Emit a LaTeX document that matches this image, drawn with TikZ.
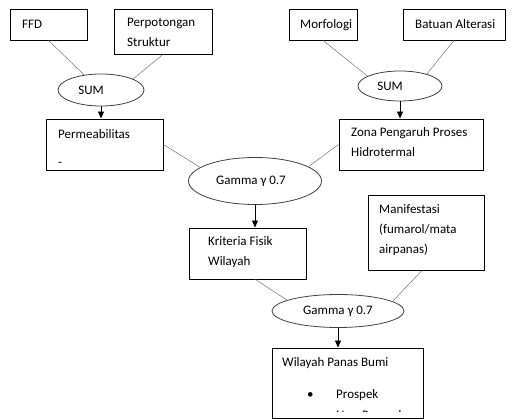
\documentclass[tikz,border=0pt]{standalone}
\usepackage{fontspec}
\setmainfont{Carlito}
\usetikzlibrary{arrows.meta,shapes.geometric}
\begin{document}
\begin{tikzpicture}[x=1pt,y=-1pt,
  box/.style={draw=black, line width=0.9pt, inner sep=0pt},
  txt/.style={inner sep=0pt, anchor=west, align=left, font=\fontsize{13}{20}\selectfont},
  oval/.style={draw=black!75, line width=0.8pt, ellipse, inner sep=0pt, font=\fontsize{13}{15}\selectfont},
  link/.style={draw=black!55, line width=0.5pt},
  arr/.style={draw=black, line width=0.9pt, -{Triangle[length=7pt,width=6pt]}}
]
\useasboundingbox (0,0) rectangle (525,419);
% boxes
\node[box, minimum width=77pt, minimum height=31pt] (ffd) at (48.5,24.5) {};
\node[box, minimum width=98pt, minimum height=45pt] (perp) at (163,31.5) {};
\node[box, minimum width=68pt, minimum height=31pt] (morf) at (323,24.5) {};
\node[box, minimum width=102pt, minimum height=31pt] (batu) at (454,24.5) {};
\node[box, minimum width=117pt, minimum height=51pt] (perm) at (104.5,144.5) {};
\node[box, minimum width=144pt, minimum height=51pt] (zona) at (411,144.5) {};
\node[box, minimum width=117pt, minimum height=51pt] (krit) at (247.5,253.5) {};
\node[box, minimum width=116pt, minimum height=75pt] (manif) at (426,232.5) {};
% texts
\node[txt] (tffd) at (22,25) {\strut FFD};
\node[txt] (tperp) at (127,33) {\strut Perpotongan\\\strut Struktur};
\node[txt] (tmorf) at (300,25) {\strut Morfologi};
\node[txt] (tbatu) at (415,25) {\strut Batuan Alterasi};
\node[txt] (tperm) at (58,149) {\strut Permeabilitas\\[8pt]\strut -};
\node[txt] (tzona) at (351,143) {\strut Zona Pengaruh Proses\\\strut Hidrotermal};
\node[txt] (tkrit) at (208,252) {\strut Kriteria Fisik\\\strut Wilayah};
\node[txt] (tmanif) at (379,230) {\strut Manifestasi\\\strut (fumarol/mata\\\strut airpanas)};
% ellipses
\node[oval, minimum width=86pt, minimum height=32pt] (sum1) at (101,90) {SUM\hspace*{20pt}};
\node[oval, minimum width=84pt, minimum height=30pt] (sum2) at (400,86) {SUM\hspace*{20pt}};
\node[oval, minimum width=133pt, minimum height=47pt] (g1) at (255,181) {Gamma γ 0.7\hspace*{8pt}};
\node[oval, minimum width=132pt, minimum height=33pt] (g2) at (338,311) {Gamma γ 0.7};
% final box with clipped content
\begin{scope}
  \clip (273,349) rectangle (422,412);
  \node[txt] (twil) at (282,363) {\strut Wilayah Panas Bumi};
  \node[txt] (tpro) at (307,395) {\strut\makebox[29pt][l]{•}Prospek};
  \node[txt] (tnon) at (307,416) {\strut\makebox[29pt][l]{•}Non-Prospek};
\end{scope}
\node[box, minimum width=151pt, minimum height=70pt] (wil) at (347.5,383) {};
% connectors
\draw[link] (ffd.south) -- (sum1.138);
\draw[link] (perp.south) -- (sum1.19);
\draw[link] (morf.south) -- (sum2.163);
\draw[link] (batu.south) -- (sum2.24);
\draw[link] (perm.east) -- (g1.166);
\draw[link] (zona.west) -- (g1.15);
\draw[link] ([xshift=8pt]krit.south) -- (g2.168);
\draw[link] ([xshift=-4pt]manif.south) -- (g2.10);
\draw[arr] (sum1.south) -- (sum1.south |- perm.north);
\draw[arr] (sum2.south) -- (sum2.south |- zona.north);
\draw[arr] (g1.south) -- (g1.south |- krit.north);
\draw[arr] (g2.south) -- (g2.south |- wil.north);
\end{tikzpicture}
\end{document}
